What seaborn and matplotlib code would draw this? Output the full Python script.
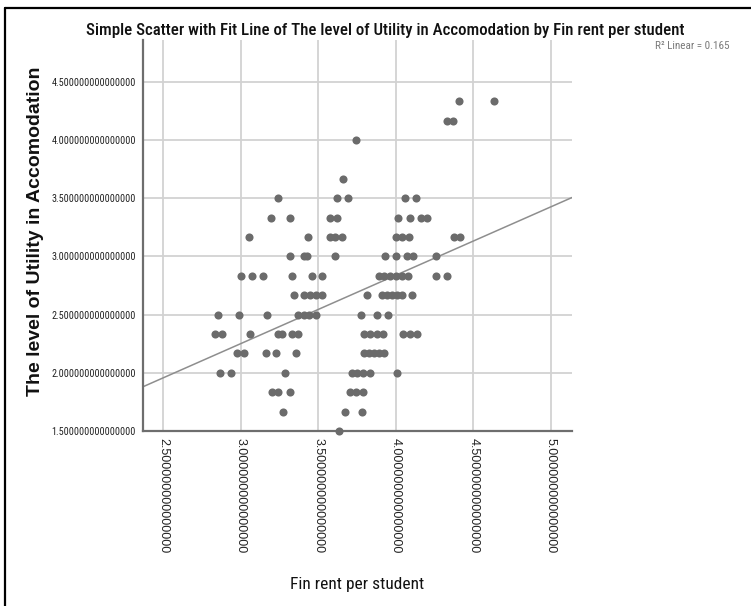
import matplotlib
matplotlib.use("Agg")
import matplotlib.pyplot as plt
import pandas as pd
import seaborn as sns
from matplotlib.lines import Line2D

# Fin rent per student (x) and utility level (y), grouped by utility row
rent_433 = [4.408, 4.634]
rent_417 = [4.328, 4.367]
rent_400 = [3.745]
rent_367 = [3.661]
rent_350 = [3.239, 3.621, 3.692, 4.059, 4.128]
rent_333 = [3.197, 3.316, 3.577, 3.621, 4.016, 4.088, 4.161, 4.199]
rent_317 = [3.055, 3.432, 3.577, 3.610, 3.650, 4.001, 4.040, 4.087, 4.374, 4.412]
rent_300 = [3.317, 3.408, 3.427, 3.610, 3.930, 4.001, 4.069, 4.111, 4.259]
rent_283 = [3.001, 3.072, 3.143, 3.327, 3.456, 3.526, 3.888, 3.924, 3.963,
            4.001, 4.040, 4.079, 4.259, 4.328]
rent_267 = [3.340, 3.408, 3.443, 3.482, 3.524, 3.814, 3.911, 3.943, 3.975,
            4.008, 4.040, 4.103]
rent_250 = [2.853, 2.988, 3.172, 3.371, 3.405, 3.440, 3.482, 3.772, 3.879, 3.952]
rent_233 = [2.834, 2.877, 3.059, 3.242, 3.266, 3.330, 3.369, 3.795, 3.834,
            3.879, 3.914, 4.048, 4.092, 4.135]
rent_217 = [2.977, 3.021, 3.161, 3.230, 3.359, 3.795, 3.827, 3.859, 3.892, 3.921]
rent_200 = [2.866, 2.937, 3.287, 3.717, 3.750, 3.788, 3.834, 4.010]
rent_183 = [3.201, 3.242, 3.317, 3.706, 3.745, 3.785]
rent_167 = [3.275, 3.672, 3.784]
rent_150 = [3.630]

utility_levels = [4.3333, 4.1667, 4.0, 3.6667, 3.5, 3.3333, 3.1667, 3.0, 2.8333,
                  2.6667, 2.5, 2.3333, 2.1667, 2.0, 1.8333, 1.6667, 1.5]
rent_groups = [rent_433, rent_417, rent_400, rent_367, rent_350, rent_333, rent_317,
               rent_300, rent_283, rent_267, rent_250, rent_233, rent_217, rent_200,
               rent_183, rent_167, rent_150]

x_ticks = [2.5, 3.0, 3.5, 4.0, 4.5, 5.0]
y_ticks = [1.5, 2.0, 2.5, 3.0, 3.5, 4.0, 4.5]

# linear fit reported for the full sample
r2_linear = 0.165
fit_intercept = 0.488
fit_slope = 0.5877

rows = []
for level, group in zip(utility_levels, rent_groups):
    for r in group:
        rows.append({"rent": r, "utility": level})
df = pd.DataFrame(rows)

sns.set_style("white")
plt.rcParams["font.family"] = ["Roboto Condensed", "DejaVu Sans"]

fig = plt.figure(figsize=(7.51, 6.06), dpi=100)
ax = fig.add_axes([143 / 751, 1 - 431 / 606, (572 - 143) / 751, (431 - 40) / 606])

xlim = (2.369, 5.136)
ylim = (1.5, 4.86)
ax.set_xlim(*xlim)
ax.set_ylim(*ylim)

grid_col = "#d2d2d2"
for xv in x_ticks:
    ax.axvline(xv, color=grid_col, lw=1.3, zorder=0)
for yv in y_ticks:
    ax.axhline(yv, color=grid_col, lw=1.3, zorder=0)

sns.scatterplot(data=df, x="rent", y="utility", ax=ax, color="#6b6b6b",
                s=34, linewidth=0, zorder=3, clip_on=False)
ax.axline((0.0, fit_intercept), slope=fit_slope, color="#8e8e8e", lw=1.1, zorder=2)

ax.set_xlim(*xlim)
ax.set_ylim(*ylim)

for side in ("top", "right"):
    ax.spines[side].set_visible(False)
for side in ("left", "bottom"):
    ax.spines[side].set_color("#6e6e6e")
    ax.spines[side].set_linewidth(1.6)

ax.set_xticks(x_ticks)
ax.set_xticklabels([f"{v:.15f}" for v in x_ticks], rotation=270,
                   fontsize=9, color="#222222", va="top", ha="center",
                   family=["Liberation Sans", "DejaVu Sans"])
ax.set_yticks(y_ticks)
ax.set_yticklabels([f"{v:.15f}" for v in y_ticks], fontsize=7.3, color="#222222",
                   family=["Roboto Condensed", "DejaVu Sans"])
ax.tick_params(axis="both", length=0)
ax.tick_params(axis="x", pad=5)
ax.tick_params(axis="y", pad=5)

ax.set_xlabel("Fin rent per student", fontsize=12.5, color="#111111")
ax.xaxis.set_label_coords(0.5, (431 - 577) / 391, transform=ax.transAxes)
ax.set_ylabel("The level of Utility in Accomodation", fontsize=14,
              fontweight="bold", color="#111111",
              family=["Liberation Sans", "DejaVu Sans"])
ax.yaxis.set_label_coords((44 - 143) / 429, (431 - 231) / 391, transform=ax.transAxes)

fig.text(385.5 / 751, 1 - 30 / 606,
         "Simple Scatter with Fit Line of The level of Utility in Accomodation by Fin rent per student",
         ha="center", va="center", fontsize=12.2, fontweight="medium", color="#111111")
fig.text(655 / 751, 1 - 46 / 606, f"R\u00b2 Linear = {r2_linear}",
         ha="left", va="center", fontsize=8, color="#7a7a7a")

# outer chart frame (left and top edges)
fig.add_artist(Line2D([5 / 751, 5 / 751], [0, 1 - 8 / 606], color="black",
                      lw=1.6, transform=fig.transFigure))
fig.add_artist(Line2D([5 / 751, 1], [1 - 8 / 606, 1 - 8 / 606], color="black",
                      lw=1.6, transform=fig.transFigure))

fig.savefig("out.png", dpi=100, facecolor="white")
